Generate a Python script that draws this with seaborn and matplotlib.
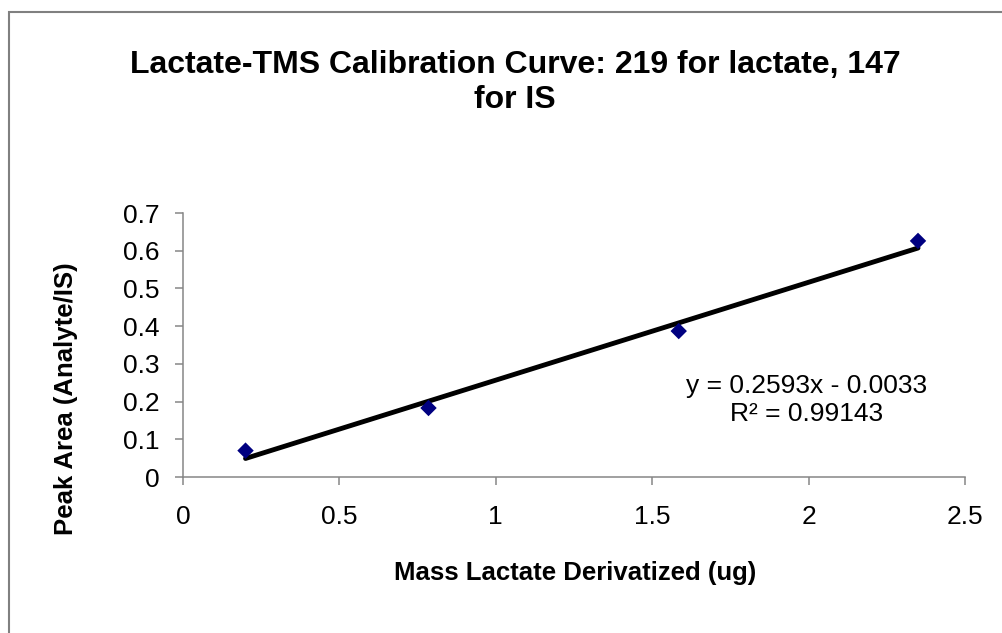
import matplotlib
matplotlib.use("Agg")
import matplotlib.pyplot as plt
import matplotlib.patches as mpatches
from matplotlib.ticker import FuncFormatter
import seaborn as sns

# calibration points
mass_ug = [0.2, 0.785, 1.585, 2.35]
peak_ratio = [0.07, 0.183, 0.387, 0.626]

x_ticks = [0, 0.5, 1, 1.5, 2, 2.5]
y_ticks = [0, 0.1, 0.2, 0.3, 0.4, 0.5, 0.6, 0.7]

title = "Lactate-TMS Calibration Curve: 219 for lactate, 147\nfor IS"
eq_text = "y = 0.2593x - 0.0033\nR\u00b2 = 0.99143"

sns.set_style("ticks", {'text.color': 'black', 'axes.labelcolor': 'black',
                        'xtick.color': 'black', 'ytick.color': 'black'})
plt.rcParams['font.family'] = ['Liberation Sans', 'DejaVu Sans']

fig, ax = plt.subplots(figsize=(10.02, 6.33), dpi=100)
fig.subplots_adjust(left=0.1826, right=0.963, bottom=0.2464, top=0.6635)

# ── trendline + points ────────────────────────────────────
sns.regplot(x=mass_ug, y=peak_ratio, ax=ax, ci=None, scatter=False,
            truncate=True, color='black', line_kws={'linewidth': 3.5, 'zorder': 2})
sns.scatterplot(x=mass_ug, y=peak_ratio, ax=ax, marker='D', s=70,
                color='#000080', edgecolor='none', zorder=3)

ax.set_xlim(0, 2.5)
ax.set_ylim(0, 0.7)
ax.set_xticks(x_ticks)
ax.set_yticks(y_ticks)
fmt = FuncFormatter(lambda v, p: f"{v:g}")
ax.xaxis.set_major_formatter(fmt)
ax.yaxis.set_major_formatter(fmt)

for side in ['top', 'right']:
    ax.spines[side].set_visible(False)
for side in ['left', 'bottom']:
    ax.spines[side].set_color('#868686')
    ax.spines[side].set_linewidth(1.1)

ax.tick_params(axis='both', labelsize=19, color='#868686', labelcolor='black',
               length=6, width=1.1)
ax.tick_params(axis='x', pad=14)
ax.tick_params(axis='y', pad=11)

ax.set_xlabel('Mass Lactate Derivatized (ug)', fontsize=18.5, fontweight='bold',
              color='black')
ax.set_ylabel('Peak Area (Analyte/IS)', fontsize=18.5, fontweight='bold',
              color='black')
ax.xaxis.set_label_coords(0.501, -0.318)
ax.yaxis.set_label_coords(-0.134, 0.295)

ax.text(0.798, 0.292, eq_text, transform=ax.transAxes, fontsize=19,
        color='black', ha='center', va='center', multialignment='center',
        linespacing=1.2)

fig.text(0.514, 0.869, title, fontsize=23, fontweight='bold', color='black',
         ha='center', va='center', multialignment='center', linespacing=1.22)

# chart-area border (left and top edges visible)
border = mpatches.Rectangle((0.009, -0.2), 1.2, 1.2 - 12 / 633,
                            transform=fig.transFigure, fill=False,
                            edgecolor='#808080', linewidth=1.5, clip_on=False)
fig.patches.append(border)

plt.savefig('out.png', dpi=100)
